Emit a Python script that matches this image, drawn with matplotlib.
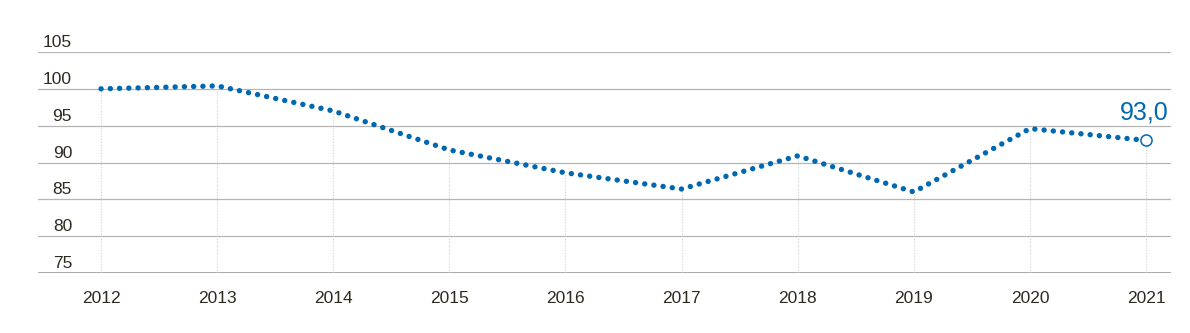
import numpy as np
import matplotlib
matplotlib.use('Agg')
import matplotlib.pyplot as plt
import matplotlib.transforms as mtransforms

years = [2012, 2013, 2014, 2015, 2016, 2017, 2018, 2019, 2020, 2021]
values = [100.0, 100.4, 97.0, 91.7, 88.6, 86.4, 90.9, 86.0, 94.6, 93.0]
yticks = [75, 80, 85, 90, 95, 100, 105]
last_label = '93,0'

blue = '#0068b1'
text_col = '#2e2a20'
grid_col = '#b5b5b5'

plt.rcParams['font.family'] = ['Liberation Sans', 'DejaVu Sans']

fig = plt.figure(figsize=(11.9, 3.33), dpi=100)
ax = fig.add_axes([38 / 1190, 60 / 333, (1171 - 38) / 1190, (273 - 52) / 333])
ax.set_xlim(2011.457, 2021.215)
ax.set_ylim(75, 105)

# horizontal grid
for v in yticks[1:]:
    ax.axhline(v, color=grid_col, lw=0.9, zorder=1)
ax.axhline(75, color='#9a9a9a', lw=1.2, zorder=1)

# drop lines from each point
ax.vlines(years, 75, values, colors='#d0d0d0', lw=0.8, linestyles=(0, (1, 1.5)), zorder=1)

# dotted series
ax.plot(years, values, color=blue, lw=3.9, linestyle=(0, (0.01, 1.7)),
        dash_capstyle='round', solid_capstyle='round', zorder=3)
ax.plot(years[-1], values[-1], 'o', ms=8, mfc='white', mec=blue, mew=1.1, zorder=4)
ax.annotate(last_label, (years[-1], values[-1]), xytext=(16, 15), textcoords='offset points',
            ha='right', va='baseline', fontsize=18, color=blue)

# y labels sit above their grid lines
trans = mtransforms.blended_transform_factory(fig.transFigure, ax.transData)
for v in yticks:
    ax.annotate(str(v), (72 / 1190, v), xycoords=trans, xytext=(0, 3.6), textcoords='offset points',
                ha='right', va='baseline', fontsize=12.5, color=text_col, annotation_clip=False)

ax.set_xticks(years)
ax.set_xticklabels([str(y) for y in years], fontsize=12.5, color=text_col)
ax.tick_params(axis='x', length=0, pad=13)
ax.set_yticks([])
for s in ax.spines.values():
    s.set_visible(False)

fig.savefig('out.png', dpi=100)
